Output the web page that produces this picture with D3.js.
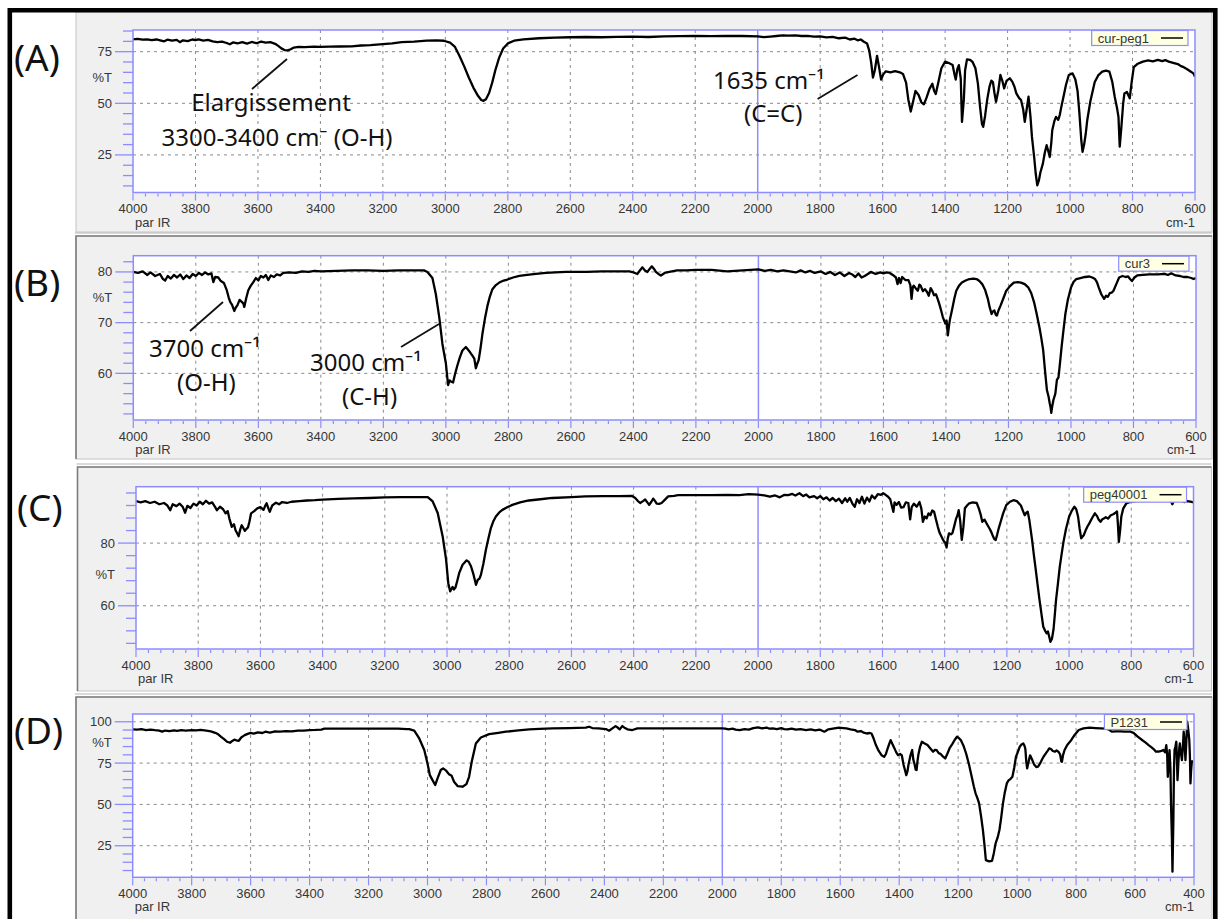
<!DOCTYPE html>
<html>
<head>
<meta charset="utf-8">
<script src="https://cdn.jsdelivr.net/npm/d3@7"></script>
<style>
  html, body { margin: 0; padding: 0; background: #fff; }
  svg { display: block; }
  .tick-label { font-family: "Liberation Sans", Arial, sans-serif; font-size: 13px; fill: #363636; }
  .note { font-family: "Noto Sans", "Open Sans", sans-serif; font-size: 24px; fill: #111; }
  .panel-label { font-family: "Noto Sans", "Open Sans", sans-serif; font-size: 37px; fill: #111; }
</style>
</head>
<body>
<svg id="chart" width="1220" height="919"></svg>
<script>
// ---- IR spectra: [wavenumber (cm-1), transmittance (%T)] ----
const curPeg1 = [
  [4000,81.0],[3985,81.2],[3970,80.8],[3955,81.0],[3940,80.6],[3925,80.9],[3910,80.4],[3900,80.0],[3890,80.8],[3875,80.3],
  [3860,80.7],[3850,79.6],[3840,80.5],[3825,80.1],[3810,80.9],[3800,80.6],[3790,81.0],[3775,80.4],[3760,80.7],[3745,80.0],
  [3730,79.6],[3715,79.9],[3700,79.2],[3690,78.6],[3680,79.5],[3665,79.0],[3650,79.6],[3635,78.9],[3620,79.7],[3605,79.1],
  [3590,79.9],[3575,79.4],[3560,79.6],[3545,78.8],[3535,77.8],[3525,76.6],[3515,75.8],[3505,75.6],[3495,76.2],[3485,77.0],
  [3470,77.3],[3450,77.2],[3420,77.4],[3400,77.3],[3370,77.4],[3340,77.5],[3300,77.6],[3270,78.0],[3240,78.2],[3200,78.7],
  [3170,79.0],[3140,79.6],[3100,79.9],[3060,80.4],[3030,80.5],[3005,80.3],[2985,79.4],[2970,77.5],[2955,73.0],[2940,68.0],
  [2925,62.5],[2910,57.5],[2895,53.5],[2885,51.6],[2878,51.2],[2870,52.0],[2860,55.0],[2850,60.0],[2840,66.0],[2828,72.0],
  [2815,76.5],[2800,79.0],[2780,80.3],[2750,81.0],[2700,81.5],[2650,81.8],[2600,82.0],[2550,82.1],[2500,82.0],[2450,82.2],
  [2400,82.3],[2350,82.1],[2300,82.4],[2250,82.5],[2200,82.6],[2150,82.5],[2100,82.6],[2050,82.6],[2000,82.4],[1980,82.0],
  [1960,82.3],[1940,82.6],[1920,82.9],[1900,82.8],[1880,82.9],[1860,82.6],[1840,82.7],[1820,82.3],[1800,82.4],[1780,81.9],
  [1760,82.2],[1740,81.5],[1720,81.8],[1705,80.9],[1690,81.3],[1680,80.5],[1670,80.9],[1660,79.8],[1650,79.0],[1643,75.5],
  [1637,70.0],[1631,62.5],[1625,66.0],[1618,73.0],[1612,68.0],[1605,61.5],[1598,64.0],[1590,65.5],[1575,65.0],[1560,65.6],
  [1545,65.0],[1535,64.2],[1525,60.0],[1518,52.0],[1510,46.0],[1503,50.5],[1495,56.0],[1485,54.0],[1476,50.5],[1468,49.5],
  [1460,52.5],[1450,57.0],[1441,59.5],[1435,56.0],[1430,54.5],[1422,60.0],[1412,67.0],[1400,70.2],[1388,69.5],[1376,68.5],
  [1370,64.0],[1366,61.5],[1361,66.5],[1356,68.5],[1350,62.0],[1346,41.0],[1340,52.0],[1336,66.0],[1330,71.3],[1320,71.0],
  [1312,70.0],[1303,67.0],[1295,59.5],[1288,48.0],[1282,40.0],[1278,38.6],[1272,44.0],[1265,52.0],[1258,58.0],[1252,61.0],
  [1247,60.3],[1242,55.0],[1237,50.7],[1230,56.0],[1223,63.7],[1217,61.0],[1211,57.2],[1203,61.0],[1193,62.1],[1185,60.5],
  [1178,58.0],[1172,54.8],[1163,52.5],[1157,51.6],[1150,47.0],[1145,41.0],[1139,47.0],[1133,53.2],[1127,44.0],[1122,33.7],
  [1115,24.0],[1110,16.0],[1105,10.3],[1100,12.5],[1095,16.5],[1087,20.8],[1081,26.0],[1075,29.7],[1070,27.0],[1065,24.0],
  [1060,31.0],[1057,37.0],[1050,41.5],[1045,43.4],[1038,42.0],[1033,44.3],[1027,49.0],[1021,53.2],[1013,59.0],[1004,63.7],
  [992,64.5],[983,61.5],[976,56.0],[970,45.0],[964,32.0],[960,26.5],[955,30.0],[950,35.0],[945,41.8],[935,51.0],
  [921,60.3],[910,63.5],[897,65.3],[885,65.8],[874,65.3],[865,60.5],[857,53.2],[850,48.0],[845,43.4],[841,29.0],
  [836,38.0],[830,50.0],[826,54.8],[818,55.5],[809,52.4],[803,60.0],[796,67.5],[785,69.0],[767,70.2],[750,70.8],
  [735,70.3],[719,71.0],[705,70.4],[695,70.9],[684,70.2],[670,69.6],[655,69.0],[645,68.0],[636,67.5],[625,66.5],
  [613,65.3],[605,64.5],[600,62.9]
];

const cur3 = [
  [4000,80.0],[3985,79.8],[3970,80.1],[3955,79.4],[3945,79.9],[3930,79.2],[3915,79.6],[3905,78.6],[3898,78.3],[3890,79.2],
  [3880,78.7],[3870,79.4],[3860,78.9],[3850,79.5],[3840,78.6],[3830,79.3],[3820,78.8],[3810,79.6],[3800,79.2],[3790,79.8],
  [3780,79.4],[3770,79.9],[3760,79.5],[3750,79.7],[3744,78.0],[3738,79.0],[3728,78.9],[3720,78.2],[3710,77.8],[3701,76.4],
  [3695,75.0],[3690,74.1],[3684,73.5],[3677,72.3],[3672,73.0],[3667,73.4],[3660,74.5],[3653,74.1],[3648,73.8],[3645,73.1],
  [3638,75.0],[3632,76.4],[3625,77.2],[3616,78.0],[3608,78.8],[3600,78.3],[3592,79.2],[3584,78.9],[3576,79.4],[3568,78.4],
  [3560,79.3],[3550,79.0],[3541,79.5],[3530,79.3],[3520,79.8],[3500,79.9],[3480,79.8],[3460,80.1],[3440,80.0],[3420,80.2],
  [3400,80.1],[3350,80.2],[3300,80.3],[3250,80.3],[3200,80.2],[3150,80.3],[3100,80.3],[3070,80.3],[3059,80.0],[3043,78.8],
  [3032,75.6],[3021,71.0],[3011,65.8],[3000,62.0],[2993,57.7],[2988,58.6],[2984,58.4],[2977,58.2],[2970,60.0],[2963,61.6],
  [2955,63.2],[2947,64.5],[2936,65.2],[2923,64.2],[2915,63.5],[2909,62.9],[2904,61.0],[2899,62.0],[2895,62.6],[2889,65.0],
  [2883,67.8],[2875,70.8],[2867,73.3],[2859,75.2],[2851,76.6],[2840,77.4],[2829,77.9],[2815,78.3],[2803,78.5],[2785,78.9],
  [2765,79.2],[2740,79.4],[2712,79.6],[2680,79.8],[2650,79.9],[2616,80.0],[2550,80.0],[2500,80.1],[2450,80.1],[2413,80.1],
  [2400,79.9],[2387,79.6],[2378,80.4],[2371,80.9],[2363,80.3],[2355,80.0],[2348,80.6],[2341,81.1],[2334,80.6],[2328,80.0],
  [2320,79.6],[2312,79.3],[2300,79.8],[2285,80.0],[2260,80.3],[2230,80.3],[2200,80.4],[2150,80.4],[2100,80.1],[2050,80.3],
  [2000,80.5],[1980,80.2],[1960,80.4],[1940,80.1],[1920,80.3],[1900,80.1],[1880,79.9],[1865,80.3],[1850,79.9],[1835,80.2],
  [1820,79.8],[1800,80.1],[1785,79.6],[1770,80.0],[1755,79.4],[1740,79.9],[1725,79.2],[1710,79.8],[1700,79.5],[1690,79.0],
  [1680,79.7],[1670,78.9],[1660,79.2],[1650,79.6],[1640,80.0],[1625,79.6],[1610,79.9],[1600,79.7],[1590,79.9],[1580,79.8],
  [1570,79.4],[1560,78.9],[1555,77.6],[1550,78.8],[1545,77.8],[1540,79.0],[1530,78.4],[1520,78.4],[1514,77.4],[1510,74.7],
  [1506,77.0],[1503,77.3],[1497,76.8],[1490,76.3],[1485,77.5],[1481,77.3],[1474,76.2],[1467,76.6],[1460,76.0],[1455,75.3],
  [1449,76.8],[1444,76.3],[1438,75.4],[1432,75.6],[1426,74.6],[1420,73.4],[1415,72.3],[1410,71.1],[1402,69.8],[1398,70.4],
  [1394,67.5],[1390,69.5],[1387,70.7],[1383,71.8],[1379,73.0],[1373,74.8],[1367,76.3],[1358,77.3],[1349,77.9],[1337,78.3],
  [1325,78.6],[1312,78.7],[1302,78.6],[1293,78.2],[1284,77.6],[1275,76.5],[1266,74.7],[1260,73.0],[1254,71.7],[1250,72.2],
  [1245,72.4],[1241,71.6],[1237,71.4],[1232,72.4],[1225,73.4],[1215,75.0],[1207,76.3],[1195,77.2],[1183,77.9],[1170,78.0],
  [1160,77.9],[1148,77.6],[1136,76.9],[1127,75.8],[1118,74.0],[1110,71.8],[1101,69.1],[1095,67.0],[1089,64.6],[1083,60.5],
  [1077,56.7],[1072,55.5],[1068,54.1],[1065,53.2],[1063,52.2],[1060,53.5],[1056,54.8],[1050,56.0],[1045,58.7],[1040,59.2],
  [1036,61.5],[1030,65.2],[1024,68.5],[1018,71.7],[1010,74.5],[1000,76.9],[992,78.0],[983,78.6],[970,78.8],[955,79.0],
  [941,79.1],[932,78.9],[923,78.6],[917,78.0],[911,76.9],[903,75.6],[894,74.7],[888,75.3],[882,75.1],[876,75.8],
  [870,75.9],[864,76.3],[855,77.6],[846,78.9],[835,79.2],[825,79.0],[817,79.1],[811,78.6],[805,78.2],[797,78.9],
  [788,79.3],[770,79.4],[750,79.5],[722,79.5],[700,79.6],[690,79.4],[680,79.7],[675,79.6],[665,79.3],[651,79.2],
  [640,79.0],[627,79.0],[615,78.8],[608,78.6],[600,78.8]
];

const peg40001 = [
  [4000,93.4],[3985,93.0],[3970,93.4],[3955,92.8],[3940,93.2],[3925,92.4],[3910,92.8],[3900,92.1],[3890,90.5],[3882,92.4],
  [3870,91.8],[3860,92.6],[3850,91.6],[3842,89.7],[3835,91.9],[3825,91.2],[3815,92.6],[3805,92.0],[3795,93.2],[3785,92.4],
  [3775,93.5],[3765,92.6],[3755,93.0],[3745,91.4],[3740,90.5],[3730,91.6],[3720,90.8],[3712,89.5],[3705,90.2],[3700,87.9],
  [3692,85.2],[3685,86.0],[3680,84.1],[3674,83.0],[3670,82.2],[3665,84.3],[3660,85.7],[3655,84.8],[3650,83.9],[3645,84.5],
  [3640,85.0],[3635,87.0],[3630,89.5],[3620,90.2],[3610,91.1],[3600,91.5],[3590,90.6],[3585,91.8],[3580,92.7],[3574,91.0],
  [3570,90.0],[3562,92.0],[3550,92.9],[3540,92.4],[3530,93.1],[3515,92.8],[3500,93.2],[3475,93.4],[3450,93.6],[3425,93.7],
  [3400,93.9],[3350,94.1],[3300,94.3],[3250,94.4],[3200,94.6],[3150,94.7],[3100,94.7],[3062,94.7],[3046,93.3],[3030,89.6],
  [3014,82.1],[3003,74.7],[2996,67.2],[2990,64.6],[2985,65.5],[2982,66.0],[2978,65.2],[2973,65.8],[2967,68.0],[2961,70.4],
  [2950,73.1],[2937,74.5],[2930,74.0],[2923,72.6],[2915,70.0],[2910,68.0],[2907,66.7],[2904,67.5],[2901,68.3],[2896,68.6],
  [2891,69.9],[2883,73.5],[2875,77.9],[2867,81.5],[2859,84.8],[2851,87.0],[2843,88.5],[2832,89.8],[2822,90.6],[2805,91.5],
  [2790,92.2],[2765,93.0],[2737,93.6],[2700,94.0],[2662,94.4],[2600,94.7],[2555,94.9],[2500,95.0],[2450,95.0],[2406,95.1],
  [2395,94.4],[2387,93.5],[2379,92.8],[2370,93.4],[2363,93.9],[2356,93.0],[2350,92.2],[2343,93.2],[2337,94.2],[2331,93.4],
  [2326,92.6],[2318,92.5],[2310,92.8],[2300,93.8],[2289,94.9],[2270,95.1],[2257,95.3],[2230,95.3],[2200,95.3],[2150,95.3],
  [2100,95.4],[2060,95.3],[2030,95.6],[2000,95.5],[1980,95.2],[1962,94.8],[1945,95.2],[1930,94.6],[1915,95.4],[1903,95.3],
  [1890,95.7],[1880,95.2],[1867,95.9],[1855,95.0],[1845,95.5],[1835,94.6],[1820,95.0],[1810,94.3],[1800,95.0],[1790,94.0],
  [1780,94.6],[1770,93.6],[1760,94.4],[1750,93.4],[1740,94.2],[1730,92.8],[1720,94.3],[1713,93.2],[1705,94.4],[1696,92.5],
  [1689,91.6],[1682,94.0],[1674,92.8],[1666,94.8],[1658,92.6],[1650,94.5],[1642,93.3],[1634,95.2],[1625,94.2],[1615,95.6],
  [1605,95.4],[1598,95.9],[1590,95.4],[1582,94.8],[1575,94.0],[1570,92.0],[1565,90.0],[1561,93.0],[1555,92.2],[1547,93.1],
  [1540,91.3],[1532,91.5],[1525,93.0],[1517,92.8],[1511,87.6],[1506,91.5],[1499,92.6],[1490,91.6],[1481,93.1],[1475,91.0],
  [1470,86.8],[1464,88.5],[1458,87.9],[1452,89.5],[1446,88.9],[1440,90.4],[1434,90.0],[1428,87.5],[1422,85.2],[1416,83.2],
  [1410,82.0],[1405,81.0],[1401,80.4],[1397,80.0],[1394,78.6],[1390,81.5],[1386,83.1],[1380,82.8],[1375,83.2],[1369,85.5],
  [1363,87.9],[1359,88.8],[1355,90.5],[1350,87.0],[1345,81.0],[1340,85.0],[1335,91.1],[1328,92.0],[1321,92.7],[1310,93.0],
  [1297,92.8],[1290,91.0],[1284,89.0],[1279,86.8],[1272,87.5],[1262,85.7],[1255,84.5],[1250,83.5],[1244,82.0],[1240,81.2],
  [1236,81.0],[1231,82.8],[1226,84.8],[1220,86.8],[1212,89.5],[1202,92.1],[1190,93.2],[1179,93.7],[1168,93.4],[1155,92.0],
  [1148,90.2],[1143,88.9],[1138,89.6],[1133,90.0],[1128,87.5],[1119,81.0],[1113,76.0],[1107,71.4],[1101,66.5],[1095,61.8],
  [1089,57.5],[1083,53.3],[1077,52.0],[1072,51.2],[1068,51.8],[1064,50.2],[1060,48.5],[1055,49.5],[1050,52.5],[1046,57.0],
  [1042,61.8],[1036,67.0],[1030,72.4],[1024,76.5],[1018,80.4],[1010,84.5],[1000,88.4],[991,90.4],[983,91.6],[977,90.8],
  [971,88.4],[966,84.5],[961,81.5],[957,82.0],[953,82.5],[947,84.0],[941,85.3],[935,86.3],[926,88.0],[917,89.5],
  [910,88.6],[905,87.5],[899,86.8],[893,87.6],[887,87.9],[882,88.3],[875,87.8],[866,88.9],[858,89.2],[852,89.6],
  [846,90.1],[843,86.0],[840,80.4],[836,84.0],[832,88.5],[826,91.0],[816,92.7],[808,93.0],[798,93.2],[780,93.5],
  [760,93.6],[740,93.8],[720,93.7],[700,93.8],[690,93.6],[680,93.8],[672,93.3],[668,92.4],[664,93.3],[650,93.6],
  [640,93.5],[630,93.1],[620,93.4],[610,93.2],[600,93.0]
];

const p1231 = [
  [4000,95.4],[3985,95.2],[3970,95.5],[3955,95.0],[3940,95.3],[3925,94.9],[3910,94.6],[3900,94.0],[3890,94.7],[3875,94.3],
  [3860,94.8],[3850,94.5],[3835,94.9],[3820,94.6],[3800,95.0],[3785,94.8],[3770,95.1],[3750,94.6],[3735,94.2],[3720,93.3],
  [3710,92.4],[3700,90.9],[3690,89.5],[3680,87.9],[3670,87.3],[3662,88.4],[3655,89.2],[3648,88.8],[3640,88.5],[3632,90.5],
  [3620,91.9],[3610,92.7],[3600,93.3],[3590,92.8],[3575,93.6],[3560,93.2],[3550,94.0],[3535,93.5],[3520,94.1],[3500,94.0],
  [3480,94.4],[3460,94.2],[3440,94.7],[3420,94.6],[3400,95.0],[3380,95.1],[3360,95.3],[3350,95.8],[3300,95.8],[3250,95.8],
  [3200,95.8],[3150,95.8],[3100,95.8],[3070,95.6],[3062,95.5],[3045,94.6],[3028,89.9],[3011,82.9],[3000,74.8],[2992,67.7],
  [2983,64.7],[2974,61.7],[2966,65.7],[2955,70.8],[2947,71.8],[2938,70.6],[2927,68.3],[2918,67.3],[2910,63.7],[2898,61.1],
  [2881,60.7],[2868,62.3],[2859,66.7],[2850,75.8],[2836,86.9],[2819,90.5],[2791,92.5],[2760,93.3],[2734,94.0],[2700,94.6],
  [2655,95.4],[2620,95.7],[2576,96.0],[2520,96.2],[2463,96.4],[2452,97.0],[2441,96.2],[2420,96.0],[2395,95.6],[2384,94.6],
  [2373,96.0],[2362,97.4],[2355,96.5],[2348,95.4],[2339,97.4],[2330,96.2],[2322,95.4],[2305,95.0],[2288,96.0],[2250,96.0],
  [2203,96.0],[2100,96.0],[2000,96.0],[1990,95.9],[1979,95.4],[1965,95.8],[1955,95.2],[1941,95.0],[1925,95.6],[1910,95.3],
  [1895,96.2],[1879,96.6],[1865,96.0],[1850,96.5],[1840,95.8],[1829,96.0],[1815,95.5],[1800,96.1],[1790,95.6],[1779,95.4],
  [1765,95.9],[1750,95.2],[1735,95.6],[1716,95.0],[1700,95.4],[1685,94.8],[1670,95.3],[1654,94.0],[1640,95.4],[1625,95.8],
  [1604,96.4],[1590,96.2],[1579,96.0],[1565,95.4],[1550,95.0],[1541,94.0],[1530,94.4],[1520,93.4],[1510,92.9],[1500,93.2],
  [1494,92.9],[1487,90.0],[1479,85.9],[1470,82.5],[1460,79.8],[1451,78.8],[1445,80.5],[1441,82.9],[1435,86.0],[1429,88.9],
  [1423,86.5],[1416,83.9],[1410,81.5],[1404,79.8],[1397,80.5],[1391,79.6],[1385,73.8],[1380,70.5],[1376,67.7],[1372,70.0],
  [1369,73.5],[1362,79.5],[1356,82.9],[1352,77.0],[1348,74.5],[1344,71.0],[1341,70.8],[1338,76.0],[1335,80.0],[1329,85.0],
  [1323,87.9],[1315,87.0],[1304,85.9],[1295,84.0],[1285,81.9],[1279,83.0],[1273,82.8],[1266,81.0],[1260,80.6],[1252,79.0],
  [1244,77.8],[1237,80.5],[1229,84.0],[1220,86.5],[1212,89.0],[1204,90.9],[1198,90.2],[1191,88.9],[1182,85.5],[1173,80.8],
  [1163,74.0],[1154,66.7],[1147,61.0],[1141,56.7],[1135,54.0],[1129,50.6],[1122,42.5],[1116,34.5],[1111,26.0],[1106,16.3],
  [1095,15.5],[1085,15.9],[1079,20.5],[1073,26.4],[1066,30.0],[1060,34.5],[1054,42.0],[1048,50.6],[1042,57.0],[1035,62.7],
  [1029,64.5],[1022,65.5],[1016,66.7],[1010,72.0],[1004,78.8],[997,82.0],[991,84.9],[985,86.3],[979,86.9],[975,85.5],
  [972,83.5],[969,76.0],[966,71.8],[962,75.0],[956,79.7],[950,77.5],[944,74.8],[941,73.8],[935,72.6],[929,72.8],
  [922,74.8],[916,77.0],[910,79.0],[902,81.0],[896,82.5],[891,83.9],[885,83.5],[879,82.3],[872,81.9],[866,82.6],
  [860,81.9],[854,80.2],[850,76.0],[848,75.8],[844,80.0],[839,82.9],[830,86.0],[816,89.0],[805,92.0],[791,95.0],
  [775,96.0],[754,96.4],[735,96.2],[716,96.0],[700,95.8],[690,95.4],[679,94.0],[665,94.2],[650,94.2],[635,94.0],
  [616,94.0],[605,93.3],[591,91.0],[575,88.8],[565,87.5],[554,85.9],[545,84.7],[537,83.5],[529,81.9],[520,82.0],
  [510,82.4],[504,82.9],[498,81.5],[494,85.9],[491,80.0],[489,66.7],[486,74.0],[483,82.9],[480,72.0],[478,50.6],
  [475,30.0],[473,9.3],[470,40.0],[468,70.0],[466,82.9],[463,85.0],[460,87.9],[458,78.0],[456,64.7],[453,75.0],
  [450,84.0],[448,86.9],[445,82.0],[441,76.8],[438,84.0],[435,94.0],[432,88.0],[429,76.8],[426,88.0],[423,100.0],
  [420,96.0],[416,89.0],[414,80.0],[412,62.7],[410,70.0],[407,76.8]
];

// ---- Axis tick labels ----
const yTicksA = [75, 50, 25];
const yTicksB = [80, 70, 60];
const yTicksC = [80, 60];
const yTicksD = [100, 75, 50, 25];
const seriesNames = ["cur-peg1", "cur3", "peg40001", "P1231"];
const panelLabels = ["(A)", "(B)", "(C)", "(D)"];

// ---- Panel layout ----
const panels = [
  { series: curPeg1, name: seriesNames[0], label: panelLabels[0], labelPos: [14, 71],
    frame: { x: 76, y: 12, w: 1136, h: 220, sunken: false },
    plot: { x0: 133, x1: 1195, y0: 30, y1: 192.5 }, xEnd: 600,
    yDomain: [6.8, 85.5], yTicks: yTicksA, yMinor: 5 },
  { series: cur3, name: seriesNames[1], label: panelLabels[1], labelPos: [14, 296],
    frame: { x: 76, y: 236, w: 1136, h: 223, sunken: true },
    plot: { x0: 133.3, x1: 1196, y0: 255.7, y1: 420 }, xEnd: 600,
    yDomain: [50.8, 83.2], yTicks: yTicksB, yMinor: 2 },
  { series: peg40001, name: seriesNames[2], label: panelLabels[2], labelPos: [17, 521],
    frame: { x: 77.5, y: 467, w: 1134, h: 224, sunken: true },
    plot: { x0: 136, x1: 1193.5, y0: 486.7, y1: 649 }, xEnd: 600,
    yDomain: [46.2, 98], yTicks: yTicksC, yMinor: 4 },
  { series: p1231, name: seriesNames[3], label: panelLabels[3], labelPos: [14, 744],
    frame: { x: 76, y: 697, w: 1136, h: 240, sunken: true },
    plot: { x0: 132.7, x1: 1194, y0: 714, y1: 877.3 }, xEnd: 400,
    yDomain: [5.9, 104.7], yTicks: yTicksD, yMinor: 5 }
];

// ---- Band assignments written on the spectra ----
const notes = [
  { text: "Elargissement", x: 271, y: 111, anchor: "middle" },
  { text: "3300-3400 cm\u207B (O-H)", x: 277, y: 146, anchor: "middle" },
  { text: "1635 cm\u207B\u00B9", x: 713, y: 89, anchor: "start" },
  { text: "(C=C)", x: 744, y: 122, anchor: "start" },
  { text: "3700 cm\u207B\u00B9", x: 149, y: 357, anchor: "start" },
  { text: "(O-H)", x: 177, y: 391, anchor: "start" },
  { text: "3000 cm\u207B\u00B9", x: 310, y: 371, anchor: "start" },
  { text: "(C-H)", x: 342, y: 405, anchor: "start" }
];
const leaders = [
  [[252, 89], [287, 59]],
  [[817.6, 99], [857.5, 75]],
  [[190, 331], [223, 302]],
  [[401, 347], [439, 324]]
];

const svg = d3.select("#chart");
svg.append("rect").attr("width", 1220).attr("height", 919).attr("fill", "#fff");
const defs = svg.append("defs");

const BLUE = "#8c8cff";
const GRID = "#8a8a8a";

panels.forEach((P, i) => {
  const g = svg.append("g");
  const f = P.frame, p = P.plot;

  // window frame
  g.append("rect").attr("x", f.x).attr("y", f.y).attr("width", f.w).attr("height", f.h)
    .attr("fill", "#f0f0f0").attr("stroke", "#c4c4c4").attr("stroke-width", 1);
  if (f.sunken) {
    g.append("path")
      .attr("d", `M${f.x},${f.y + f.h} V${f.y} H${f.x + f.w}`)
      .attr("fill", "none").attr("stroke", "#7c7c7c").attr("stroke-width", 1.6);
    g.append("path")
      .attr("d", `M${f.x - 1},${f.y - 3} H${f.x + f.w}`)
      .attr("fill", "none").attr("stroke", "#b5b5b5").attr("stroke-width", 1);
  }

  const x = d3.scaleLinear().domain([4000, P.xEnd]).range([p.x0, p.x1]);
  const y = d3.scaleLinear().domain(P.yDomain).range([p.y1, p.y0]);

  // plot background
  g.append("rect").attr("x", p.x0).attr("y", p.y0)
    .attr("width", p.x1 - p.x0).attr("height", p.y1 - p.y0).attr("fill", "#fff");

  // grid
  const xMajor = d3.range(4000, P.xEnd - 1, -200);
  const inner = xMajor.filter(v => v !== 4000 && v !== P.xEnd);
  g.selectAll(null).data(inner.filter(v => v !== 2000)).join("line")
    .attr("x1", d => x(d)).attr("x2", d => x(d)).attr("y1", p.y0).attr("y2", p.y1)
    .attr("stroke", GRID).attr("stroke-width", 1).attr("stroke-dasharray", "3,4");
  g.selectAll(null).data(P.yTicks).join("line")
    .attr("x1", p.x0).attr("x2", p.x1).attr("y1", d => y(d)).attr("y2", d => y(d))
    .attr("stroke", GRID).attr("stroke-width", 1).attr("stroke-dasharray", "3,4");
  g.append("line").attr("x1", x(2000)).attr("x2", x(2000)).attr("y1", p.y0).attr("y2", p.y1)
    .attr("stroke", BLUE).attr("stroke-width", 1.5);

  // spectrum
  const clipId = "clip" + i;
  defs.append("clipPath").attr("id", clipId).append("rect")
    .attr("x", p.x0).attr("y", p.y0).attr("width", p.x1 - p.x0).attr("height", p.y1 - p.y0);
  const line = d3.line().x(d => x(d[0])).y(d => y(d[1]));
  g.append("path").datum(P.series).attr("d", line)
    .attr("clip-path", `url(#${clipId})`)
    .attr("fill", "none").attr("stroke", "#000").attr("stroke-width", 2.3)
    .attr("stroke-linejoin", "round");

  // plot border
  g.append("rect").attr("x", p.x0).attr("y", p.y0)
    .attr("width", p.x1 - p.x0).attr("height", p.y1 - p.y0)
    .attr("fill", "none").attr("stroke", BLUE).attr("stroke-width", 1.5);

  // y axis ticks
  const [ymin, ymax] = P.yDomain;
  const minors = d3.range(Math.ceil(ymin / P.yMinor) * P.yMinor, ymax, P.yMinor)
    .filter(v => !P.yTicks.includes(v));
  g.selectAll(null).data(minors).join("line")
    .attr("x1", p.x0 - 10).attr("x2", p.x0).attr("y1", d => y(d)).attr("y2", d => y(d))
    .attr("stroke", BLUE).attr("stroke-width", 1.3);
  g.selectAll(null).data(P.yTicks).join("line")
    .attr("x1", p.x0 - 18).attr("x2", p.x0).attr("y1", d => y(d)).attr("y2", d => y(d))
    .attr("stroke", BLUE).attr("stroke-width", 1.3);
  g.selectAll(null).data(P.yTicks).join("text")
    .attr("class", "tick-label").attr("x", p.x0 - 21).attr("y", d => y(d) + 4.5)
    .attr("text-anchor", "end").text(d => d);
  const tMid = (y(P.yTicks[0]) + y(P.yTicks[1])) / 2;
  g.append("text").attr("class", "tick-label").attr("x", p.x0 - 21).attr("y", tMid + 4.5)
    .attr("text-anchor", "end").text("%T");

  // x axis ticks
  const xMinor = d3.range(4000, P.xEnd - 1, -40).filter(v => v % 200 !== 0);
  g.selectAll(null).data(xMinor).join("line")
    .attr("x1", d => x(d)).attr("x2", d => x(d)).attr("y1", p.y1 + 1).attr("y2", p.y1 + 4)
    .attr("stroke", BLUE).attr("stroke-width", 1.2);
  g.selectAll(null).data(xMajor).join("line")
    .attr("x1", d => x(d)).attr("x2", d => x(d)).attr("y1", p.y1 + 1).attr("y2", p.y1 + 8)
    .attr("stroke", BLUE).attr("stroke-width", 1.2);
  g.selectAll(null).data(xMajor).join("text")
    .attr("class", "tick-label").attr("x", d => x(d)).attr("y", p.y1 + 20.5)
    .attr("text-anchor", "middle").text(d => d);
  g.append("text").attr("class", "tick-label").attr("x", p.x0 + 2).attr("y", p.y1 + 34)
    .text("par IR");
  g.append("text").attr("class", "tick-label").attr("x", p.x1).attr("y", p.y1 + 34)
    .attr("text-anchor", "end").text("cm-1");

  // legend
  const lg = g.append("g");
  const lt = lg.append("text").attr("class", "tick-label").text(P.name);
  const tw = lt.node().getComputedTextLength();
  const lw = tw + 45, lh = 15;
  const lx = p.x1 - 7 - lw, ly = p.y0 + 0.5;
  lg.insert("rect", "text").attr("x", lx).attr("y", ly).attr("width", lw).attr("height", lh)
    .attr("fill", "#ffffe1").attr("stroke", BLUE).attr("stroke-width", 1.2);
  lt.attr("x", lx + 6).attr("y", ly + 12);
  lg.append("line").attr("x1", lx + lw - 27).attr("x2", lx + lw - 5)
    .attr("y1", ly + 7.5).attr("y2", ly + 7.5).attr("stroke", "#000").attr("stroke-width", 1.5);

  // panel letter
  svg.append("text").attr("class", "panel-label")
    .attr("x", P.labelPos[0]).attr("y", P.labelPos[1]).text(P.label);
});

// band assignments
svg.selectAll(null).data(notes).join("text")
  .attr("class", "note").attr("x", d => d.x).attr("y", d => d.y)
  .attr("text-anchor", d => d.anchor).text(d => d.text);
svg.selectAll(null).data(leaders).join("line")
  .attr("x1", d => d[0][0]).attr("y1", d => d[0][1])
  .attr("x2", d => d[1][0]).attr("y2", d => d[1][1])
  .attr("stroke", "#111").attr("stroke-width", 1.8);

// outer border
svg.append("path").attr("d", "M9.8,930 V10.3 H1215.3 V930")
  .attr("fill", "none").attr("stroke", "#000").attr("stroke-width", 4.6);
</script>
</body>
</html>
